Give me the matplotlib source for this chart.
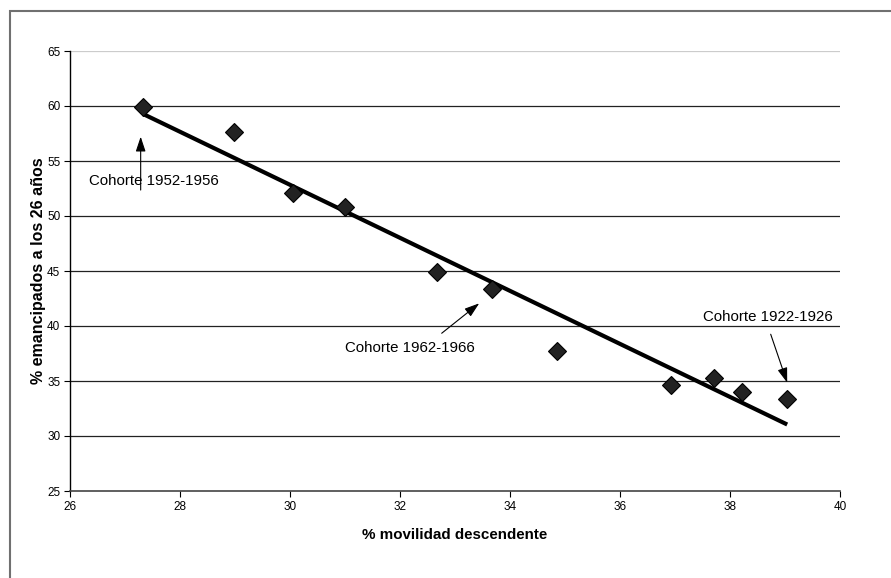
import numpy as np
import matplotlib
matplotlib.use("Agg")
import matplotlib.pyplot as plt
from matplotlib.patches import Rectangle

plt.rcParams['font.family'] = ['Liberation Sans', 'DejaVu Sans']

movilidad = [27.33, 28.98, 30.05, 31.00, 32.68, 33.68, 34.85, 36.92, 37.71, 38.21, 39.04]
emancipados = [59.9, 57.6, 52.1, 50.8, 44.9, 43.4, 37.7, 34.6, 35.3, 34.0, 33.4]

x_ticks = [26, 28, 30, 32, 34, 36, 38, 40]
y_ticks = [25, 30, 35, 40, 45, 50, 55, 60, 65]

labels = ["Cohorte 1952-1956", "Cohorte 1962-1966", "Cohorte 1922-1926"]
label_pos = [(27.53, 53.18), (32.18, 38.0), (38.685, 40.85)]
arrow_tail = [(27.285, 52.36), (32.758, 39.34), (38.74, 39.25)]
arrow_head = [(27.285, 57.21), (33.44, 42.06), (39.04, 34.85)]

W, H = 891, 578
fig = plt.figure(figsize=(W / 100, H / 100), dpi=100)
fig.patches.append(Rectangle((10 / W, -0.1), 1.2, 1 - 11 / H + 0.1, transform=fig.transFigure,
                             fill=False, edgecolor='#707070', lw=1.5))
ax = fig.add_axes([70 / W, 1 - 491 / H, 770 / W, 440 / H])

ax.set_xlim(26, 40)
ax.set_ylim(25, 65)
ax.set_xticks(x_ticks)
ax.set_yticks(y_ticks)
ax.tick_params(axis='both', labelsize=8.5, length=4, width=0.8, direction='out', pad=3)

for yv in y_ticks[1:-1]:
    ax.axhline(yv, color='#222222', lw=0.9, zorder=1)
ax.axhline(65, color='#cccccc', lw=0.9, zorder=1)

for s in ['top', 'right']:
    ax.spines[s].set_visible(False)
ax.spines['left'].set_color('black')
ax.spines['left'].set_linewidth(1.0)
ax.spines['bottom'].set_color('#444444')
ax.spines['bottom'].set_linewidth(1.2)

# trend line
coef = np.polyfit(movilidad, emancipados, 1)
xs = np.array([min(movilidad), max(movilidad)])
ax.plot(xs, np.polyval(coef, xs), color='black', lw=3, zorder=3, solid_capstyle='butt')

ax.plot(movilidad, emancipados, linestyle='none', marker='D', markersize=9.5,
        markerfacecolor='#222222', markeredgecolor='black', markeredgewidth=0.8, zorder=4)

for lab, pos, t, h in zip(labels, label_pos, arrow_tail, arrow_head):
    ax.text(pos[0], pos[1], lab, ha='center', va='center', fontsize=10.8, zorder=5)
    ax.annotate('', xy=h, xytext=t,
                arrowprops=dict(arrowstyle='-|>,head_length=0.9,head_width=0.3', color='black',
                                lw=0.8, shrinkA=0, shrinkB=0), zorder=5)

ax.set_xlabel('% movilidad descendente', fontsize=10.9, fontweight='bold', labelpad=11)
ax.set_ylabel('% emancipados a los 26 años', fontsize=11.5, fontweight='bold', labelpad=1)

fig.savefig('out.png', dpi=100)
